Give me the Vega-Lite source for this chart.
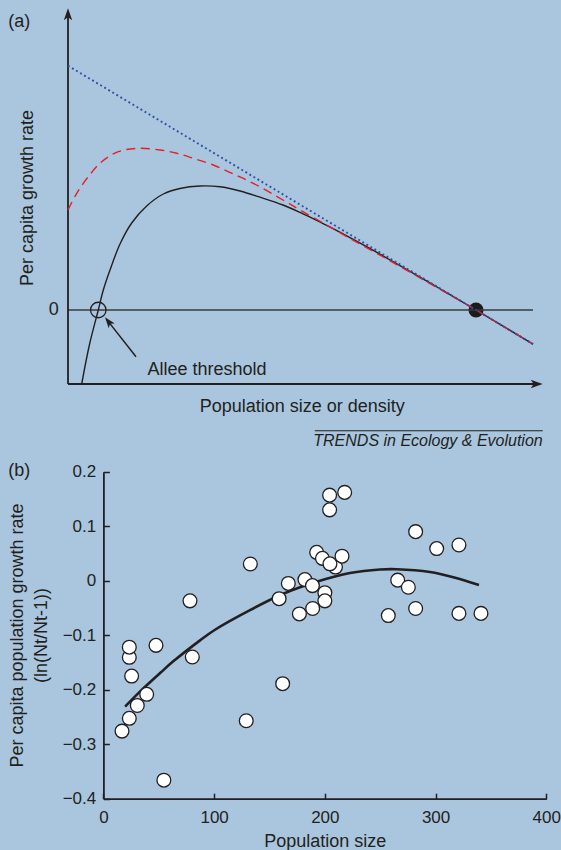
{
  "$schema": "https://vega.github.io/schema/vega-lite/v6.json",
  "width": 561,
  "height": 850,
  "autosize": {"type": "none"},
  "padding": 0,
  "background": "#a9c6de",
  "config": {
    "view": {"stroke": null},
    "font": "Liberation Sans",
    "text": {"color": "#231f20", "font": "Liberation Sans", "fontSize": 18}
  },
  "resolve": {
    "scale": {"x": "independent", "y": "independent"},
    "axis": {"x": "independent", "y": "independent"}
  },
  "layer": [
    {
      "encoding": {
        "x": {"field": "N", "type": "quantitative", "axis": null,
              "scale": {"domain": [0, 100], "range": [68, 542], "nice": false, "zero": false}},
        "y": {"field": "r", "type": "quantitative", "axis": null,
              "scale": {"domain": [-0.74, 3.017], "range": [384, 8.3], "nice": false, "zero": false}}
      },
      "layer": [
        {
          "data": {"values": [{"N": 86.08, "r": 0}]},
          "mark": {"type": "point", "shape": "circle", "filled": true, "size": 225, "color": "#1c1b1c", "opacity": 1}
        },
        {
          "data": {"values": [{"N": 0, "N2": 98.1, "r": 0}]},
          "mark": {"type": "rule", "color": "#3a3a3c", "strokeWidth": 1.6},
          "encoding": {"x2": {"field": "N2"}}
        },
        {
          "data": {"values": [{"N": 0, "r": -0.74, "r2": 2.96}]},
          "mark": {"type": "rule", "color": "#231f20", "strokeWidth": 1.8},
          "encoding": {"y2": {"field": "r2"}}
        },
        {
          "data": {"values": [{"N": 0, "N2": 98.88, "r": -0.74}]},
          "mark": {"type": "rule", "color": "#231f20", "strokeWidth": 1.8},
          "encoding": {"x2": {"field": "N2"}}
        },
        {
          "data": {"values": [{"N": 0, "r": 2.957}]},
          "mark": {"type": "point", "shape": "M0,-1L0.7,1L0,0.5L-0.7,1Z", "filled": true, "size": 144, "angle": 0, "color": "#231f20", "opacity": 1}
        },
        {
          "data": {"values": [{"N": 98.88, "r": -0.74}]},
          "mark": {"type": "point", "shape": "M0,-1L0.7,1L0,0.5L-0.7,1Z", "filled": true, "size": 144, "angle": 90, "color": "#231f20", "opacity": 1}
        },
        {
          "data": {"values": [{"N": 14.35, "r": -0.467, "N2": 8.52, "r2": -0.116}]},
          "mark": {"type": "rule", "color": "#231f20", "strokeWidth": 1.5},
          "encoding": {"x2": {"field": "N2"}, "y2": {"field": "r2"}}
        },
        {
          "data": {"values": [{"N": 8.52, "r": -0.116}]},
          "mark": {"type": "point", "shape": "M0,-1L0.7,1L0,0.5L-0.7,1Z", "filled": true, "size": 121, "angle": 322, "color": "#231f20", "opacity": 1}
        },
        {
          "data": {"values": [{"N": 6.39, "r": 0}]},
          "mark": {"type": "point", "shape": "circle", "filled": false, "size": 240, "stroke": "#231f20", "strokeWidth": 1.3, "opacity": 1}
        },
        {
          "data": {"values": [
            {"N": 2.89, "r": -0.74}, {"N": 4.51, "r": -0.35}, {"N": 6.39, "r": 0}, {"N": 7.45, "r": 0.2},
            {"N": 8.86, "r": 0.4}, {"N": 10.97, "r": 0.66}, {"N": 13.44, "r": 0.87}, {"N": 16.6, "r": 1.04},
            {"N": 20.11, "r": 1.16}, {"N": 23.63, "r": 1.215}, {"N": 27.85, "r": 1.24}, {"N": 32.07, "r": 1.232},
            {"N": 36.29, "r": 1.19}, {"N": 40.51, "r": 1.128}, {"N": 45.36, "r": 1.05}, {"N": 48.95, "r": 0.976},
            {"N": 52.47, "r": 0.896}, {"N": 55.91, "r": 0.813}, {"N": 59.49, "r": 0.724}, {"N": 63.08, "r": 0.631},
            {"N": 66.52, "r": 0.539}, {"N": 70.04, "r": 0.444}, {"N": 73.57, "r": 0.347}, {"N": 77.0, "r": 0.253},
            {"N": 80.59, "r": 0.154}, {"N": 86.08, "r": 0}, {"N": 98.1, "r": -0.341}
          ]},
          "mark": {"type": "line", "color": "#231f20", "strokeWidth": 1.4, "interpolate": "catmull-rom"}
        },
        {
          "data": {"values": [
            {"N": 0, "r": 1.0}, {"N": 1.84, "r": 1.167}, {"N": 4.28, "r": 1.333}, {"N": 7.11, "r": 1.483},
            {"N": 10.61, "r": 1.583}, {"N": 14.83, "r": 1.617}, {"N": 19.41, "r": 1.6}, {"N": 22.93, "r": 1.567},
            {"N": 26.43, "r": 1.517}, {"N": 30.65, "r": 1.45}, {"N": 34.87, "r": 1.36}, {"N": 39.09, "r": 1.267},
            {"N": 45.36, "r": 1.1}, {"N": 48.95, "r": 1.0}, {"N": 54.58, "r": 0.85}, {"N": 59.49, "r": 0.715},
            {"N": 66.52, "r": 0.53}, {"N": 73.57, "r": 0.34}, {"N": 80.59, "r": 0.15}, {"N": 86.08, "r": 0},
            {"N": 98.1, "r": -0.341}
          ]},
          "mark": {"type": "line", "color": "#e51f28", "strokeWidth": 1.4, "strokeDash": [9, 5.5], "interpolate": "catmull-rom"}
        },
        {
          "data": {"values": [{"N": 0, "r": 2.443}, {"N": 98.1, "r": -0.341}]},
          "mark": {"type": "line", "color": "#2d4fa6", "strokeWidth": 1.9, "strokeDash": [1.9, 2.8], "strokeCap": "butt"}
        },
        {
          "data": {"values": [{"N": -12.6, "r": 2.885, "label": "(a)"}]},
          "mark": {"type": "text", "align": "left", "baseline": "middle", "fontSize": 18},
          "encoding": {"text": {"field": "label"}}
        },
        {
          "data": {"values": [{"N": -3.02, "r": 0, "label": "0"}]},
          "mark": {"type": "text", "align": "center", "baseline": "middle", "fontSize": 18},
          "encoding": {"text": {"field": "label"}}
        },
        {
          "data": {"values": [{"N": -7.38, "r": 1.12, "label": "Per capita growth rate"}]},
          "mark": {"type": "text", "align": "center", "baseline": "alphabetic", "angle": 270, "fontSize": 18},
          "encoding": {"text": {"field": "label"}}
        },
        {
          "data": {"values": [{"N": 16.77, "r": -0.645, "label": "Allee threshold"}]},
          "mark": {"type": "text", "align": "left", "baseline": "alphabetic", "fontSize": 18},
          "encoding": {"text": {"field": "label"}}
        },
        {
          "data": {"values": [{"N": 49.43, "r": -1.015, "label": "Population size or density"}]},
          "mark": {"type": "text", "align": "center", "baseline": "alphabetic", "fontSize": 18},
          "encoding": {"text": {"field": "label"}}
        },
        {
          "data": {"values": [{"N": 52.07, "N2": 100.15, "r": -1.207}]},
          "mark": {"type": "rule", "color": "#231f20", "strokeWidth": 1.1},
          "encoding": {"x2": {"field": "N2"}}
        },
        {
          "data": {"values": [{"N": 100.15, "r": -1.357, "label": "TRENDS in Ecology & Evolution"}]},
          "mark": {"type": "text", "align": "right", "baseline": "alphabetic", "fontSize": 16, "fontStyle": "italic"},
          "encoding": {"text": {"field": "label"}}
        }
      ]
    },
    {
      "encoding": {
        "x": {
          "field": "P", "type": "quantitative",
          "scale": {"domain": [0, 400], "range": [103.4, 546.3], "nice": false, "zero": false},
          "axis": {
            "title": "Population size", "offset": -51.3, "values": [0, 100, 200, 300, 400], "format": "d",
            "grid": false, "tickSize": -5.5, "labelPadding": 15.8, "labelFlush": false, "labelOverlap": false, "labelBound": false,
            "domainColor": "#231f20", "domainWidth": 1.8, "tickColor": "#231f20", "tickWidth": 1.5,
            "labelColor": "#231f20", "labelFontSize": 17, "labelFont": "Liberation Sans",
            "titleColor": "#231f20", "titleFontSize": 18, "titleFontWeight": "normal", "titleFont": "Liberation Sans",
            "titleY": 48, "titleBaseline": "alphabetic"
          }
        },
        "y": {
          "field": "g", "type": "quantitative",
          "scale": {"domain": [-0.4, 0.2], "range": [798.7, 471.7], "nice": false, "zero": false},
          "axis": {
            "title": ["Per capita population growth rate", "(ln(Nt/Nt-1))"], "offset": -103.4,
            "values": [-0.4, -0.3, -0.2, -0.1, 0, 0.1, 0.2], "format": "~g",
            "grid": false, "tickSize": -6, "labelPadding": 13.7, "labelFlush": false, "labelOverlap": false, "labelBound": false,
            "domainColor": "#231f20", "domainWidth": 1.8, "tickColor": "#231f20", "tickWidth": 1.5,
            "labelColor": "#231f20", "labelFontSize": 17, "labelFont": "Liberation Sans",
            "titleColor": "#231f20", "titleFontSize": 18, "titleFontWeight": "normal", "titleFont": "Liberation Sans",
            "titleX": -81.4, "titleY": 635, "titleAngle": 270, "titleAlign": "center", "titleBaseline": "alphabetic", "titleLineHeight": 24
          }
        }
      },
      "layer": [
        {
          "data": {"values": [
            {"P": 19.6, "g": -0.231}, {"P": 33.2, "g": -0.203}, {"P": 52, "g": -0.168}, {"P": 63.1, "g": -0.148},
            {"P": 87.6, "g": -0.109}, {"P": 100.8, "g": -0.09}, {"P": 132.4, "g": -0.054}, {"P": 162.5, "g": -0.024},
            {"P": 192.6, "g": -0.002}, {"P": 222.7, "g": 0.014}, {"P": 249.8, "g": 0.0205}, {"P": 264.9, "g": 0.021},
            {"P": 295, "g": 0.016}, {"P": 316, "g": 0.0065}, {"P": 339.2, "g": -0.008}
          ]},
          "mark": {"type": "line", "color": "#231f20", "strokeWidth": 2.6, "interpolate": "catmull-rom"}
        },
        {
          "data": {"values": [
            {"P": 16.8, "g": -0.276}, {"P": 23.4, "g": -0.2525}, {"P": 30.6, "g": -0.229}, {"P": 39.1, "g": -0.2085},
            {"P": 25.5, "g": -0.175}, {"P": 23.4, "g": -0.1406}, {"P": 23.4, "g": -0.122}, {"P": 47.5, "g": -0.1186},
            {"P": 54.6, "g": -0.366}, {"P": 78.2, "g": -0.037}, {"P": 80.3, "g": -0.14}, {"P": 129.0, "g": -0.257},
            {"P": 132.7, "g": 0.0306}, {"P": 161.9, "g": -0.189}, {"P": 158.7, "g": -0.033}, {"P": 209.6, "g": 0.025},
            {"P": 192.6, "g": 0.052}, {"P": 197.8, "g": 0.041}, {"P": 204.6, "g": 0.031}, {"P": 215.5, "g": 0.045},
            {"P": 167, "g": -0.005}, {"P": 182, "g": 0.002}, {"P": 188.8, "g": -0.009}, {"P": 200, "g": -0.022},
            {"P": 200, "g": -0.037}, {"P": 189, "g": -0.051}, {"P": 177, "g": -0.061},
            {"P": 204.3, "g": 0.13}, {"P": 204.3, "g": 0.157}, {"P": 217.9, "g": 0.162},
            {"P": 257.3, "g": -0.064}, {"P": 265.8, "g": 0.001}, {"P": 275.4, "g": -0.012}, {"P": 282, "g": 0.09},
            {"P": 282, "g": -0.051}, {"P": 301, "g": 0.059}, {"P": 321.1, "g": 0.0655}, {"P": 321.1, "g": -0.06},
            {"P": 341, "g": -0.06}
          ]},
          "mark": {"type": "point", "shape": "circle", "filled": true, "size": 190, "fill": "#ffffff", "stroke": "#231f20", "strokeWidth": 1.3, "opacity": 1}
        },
        {
          "data": {"values": [{"P": -85.9, "g": 0.2004, "label": "(b)"}]},
          "mark": {"type": "text", "align": "left", "baseline": "middle", "fontSize": 18},
          "encoding": {"text": {"field": "label"}}
        }
      ]
    }
  ]
}
